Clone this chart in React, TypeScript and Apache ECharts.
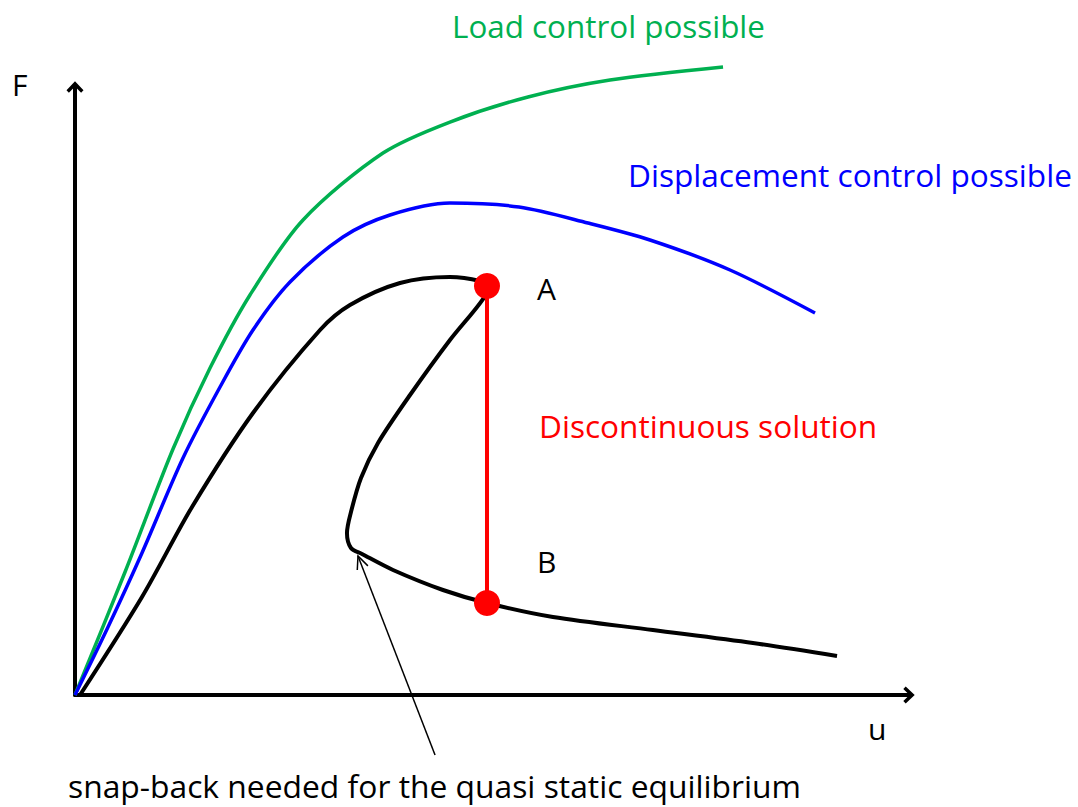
import React, { useEffect, useRef } from "react";
import * as echarts from "echarts";

// Load control curve (green)
const loadU = [0, 6.0, 11.75, 16.19, 20.98, 27.34, 36.93, 44.96, 54.32, 64.15, 77.7];
const loadF = [0, 20.23, 40.46, 53.78, 65.79, 78.13, 89.14, 94.24, 98.36, 101.15, 103.29];

// Displacement control curve (blue)
const dispU = [0, 3.96, 8.03, 12.95, 17.39, 21.34, 25.78, 32.13, 37.77, 44.96, 53.24, 61.51, 68.94, 78.54, 88.73];
const dispF = [0, 11.18, 23.36, 38.98, 50.66, 60.03, 67.93, 75.33, 78.95, 80.92, 80.26, 77.63, 74.84, 69.9, 62.83];

// Snap-back curve (black) – ascending branch up to A
const upU = [0.6, 8.03, 14.03, 21.34, 29.38, 32.97, 38.97, 44.96, 48.56, 49.4];
const upF = [0, 16.12, 30.92, 46.38, 60.03, 64.14, 67.76, 68.75, 68.09, 67.27];

// Snap-back curve (black) – returning branch from A
const backU = [49.4, 48.92, 44.96, 40.17, 36.33, 34.29, 33.09, 32.61, 33.09, 34.41, 38.13, 44.12, 49.4, 57.31, 69.3, 81.29, 91.37];
const backF = [67.27, 65.13, 58.39, 49.34, 41.45, 35.69, 30.1, 26.64, 24.18, 23.19, 20.56, 17.27, 15.13, 12.83, 10.69, 8.55, 6.41];

// Discontinuous jump A -> B (red)
const jumpU = [49.4, 49.4];
const jumpF = [67.27, 15.13];

// Annotation arrow (tail -> tip)
const arrowTail = [43.17, -9.87];
const arrowTip = [33.93, 22.86];

const zip = (u: number[], f: number[]) => u.map((x, i) => [x, f[i]]);

const FONT = "Open Sans";

export default function App() {
  const ref = useRef<HTMLDivElement>(null);
  useEffect(() => {
    document.body.style.margin = "0";
    const chart = echarts.init(ref.current!, null, { renderer: "svg" });
    const arrowSym = "path://M0,9 L8.5,0 L17,9 L14.6,11.4 L8.5,5.2 L2.4,11.4 Z";
    const axisCommon = {
      type: "value",
      min: 0,
      max: 100,
      axisLine: {
        show: true,
        onZero: false,
        lineStyle: { color: "#000", width: 4 },
        symbol: ["none", arrowSym],
        symbolSize: [17, 11.4],
      },
      axisTick: { show: false },
      axisLabel: { show: false },
      splitLine: { show: false },
    };
    chart.setOption({
      animation: false,
      backgroundColor: "#fff",
      grid: { left: 75, right: 169, top: 87, bottom: 112 },
      xAxis: { ...axisCommon },
      yAxis: { ...axisCommon },
      series: [
        {
          type: "line",
          data: zip(loadU, loadF),
          smooth: 0.3,
          showSymbol: false,
          clip: false,
          lineStyle: { color: "#00B050", width: 3.5 },
        },
        {
          type: "line",
          data: zip(dispU, dispF),
          smooth: 0.3,
          showSymbol: false,
          clip: false,
          lineStyle: { color: "#0000FF", width: 3.5 },
        },
        {
          type: "line",
          data: zip(upU, upF),
          smooth: 0.3,
          showSymbol: false,
          clip: false,
          lineStyle: { color: "#000", width: 4 },
        },
        {
          type: "line",
          data: zip(backU, backF),
          smooth: 0.3,
          showSymbol: false,
          clip: false,
          lineStyle: { color: "#000", width: 4 },
        },
        {
          type: "line",
          data: zip(jumpU, jumpF),
          symbol: "circle",
          symbolSize: 26,
          showSymbol: true,
          clip: false,
          z: 5,
          itemStyle: { color: "#FF0000" },
          lineStyle: { color: "#FF0000", width: 4 },
        },
      ],
    });

    const tail = chart.convertToPixel({ gridIndex: 0 }, arrowTail) as number[];
    const tip = chart.convertToPixel({ gridIndex: 0 }, arrowTip) as number[];
    const dx = tip[0] - tail[0];
    const dy = tip[1] - tail[1];
    const len = Math.sqrt(dx * dx + dy * dy);
    const ux = dx / len;
    const uy = dy / len;
    const L = 14;
    const th = (24 * Math.PI) / 180;
    const wing = (s: number) => {
      const c = Math.cos(s * th);
      const sn = Math.sin(s * th);
      const rx = ux * c - uy * sn;
      const ry = ux * sn + uy * c;
      return [tip[0] - L * rx, tip[1] - L * ry];
    };

    const txt = (text: string, x: number, y: number, color: string, size: number) => ({
      type: "text",
      x,
      y,
      style: {
        text,
        fill: color,
        fontSize: size,
        fontFamily: FONT,
        textAlign: "left",
        textVerticalAlign: "middle",
      },
    });

    chart.setOption({
      graphic: [
        {
          type: "line",
          shape: { x1: tail[0], y1: tail[1], x2: tip[0], y2: tip[1] },
          style: { stroke: "#000", lineWidth: 1.5 },
        },
        {
          type: "polyline",
          shape: { points: [wing(1), tip, wing(-1)] },
          style: { stroke: "#000", lineWidth: 1.5, fill: null },
        },
        txt("Load control possible", 452, 25, "#00B050", 31.4),
        txt("Displacement control possible", 628, 174, "#0000FF", 31.6),
        txt("Discontinuous solution", 539, 425, "#FF0000", 31.6),
        txt("A", 537, 288, "#000", 30),
        txt("B", 537, 561, "#000", 30),
        txt("F", 12, 84, "#000", 30),
        txt("u", 868, 728, "#000", 30),
        txt("snap-back needed for the quasi static equilibrium", 68, 785, "#000", 31.8),
      ],
    });

    return () => chart.dispose();
  }, []);
  return <div ref={ref} style={{ width: 1078, height: 807 }} />;
}
